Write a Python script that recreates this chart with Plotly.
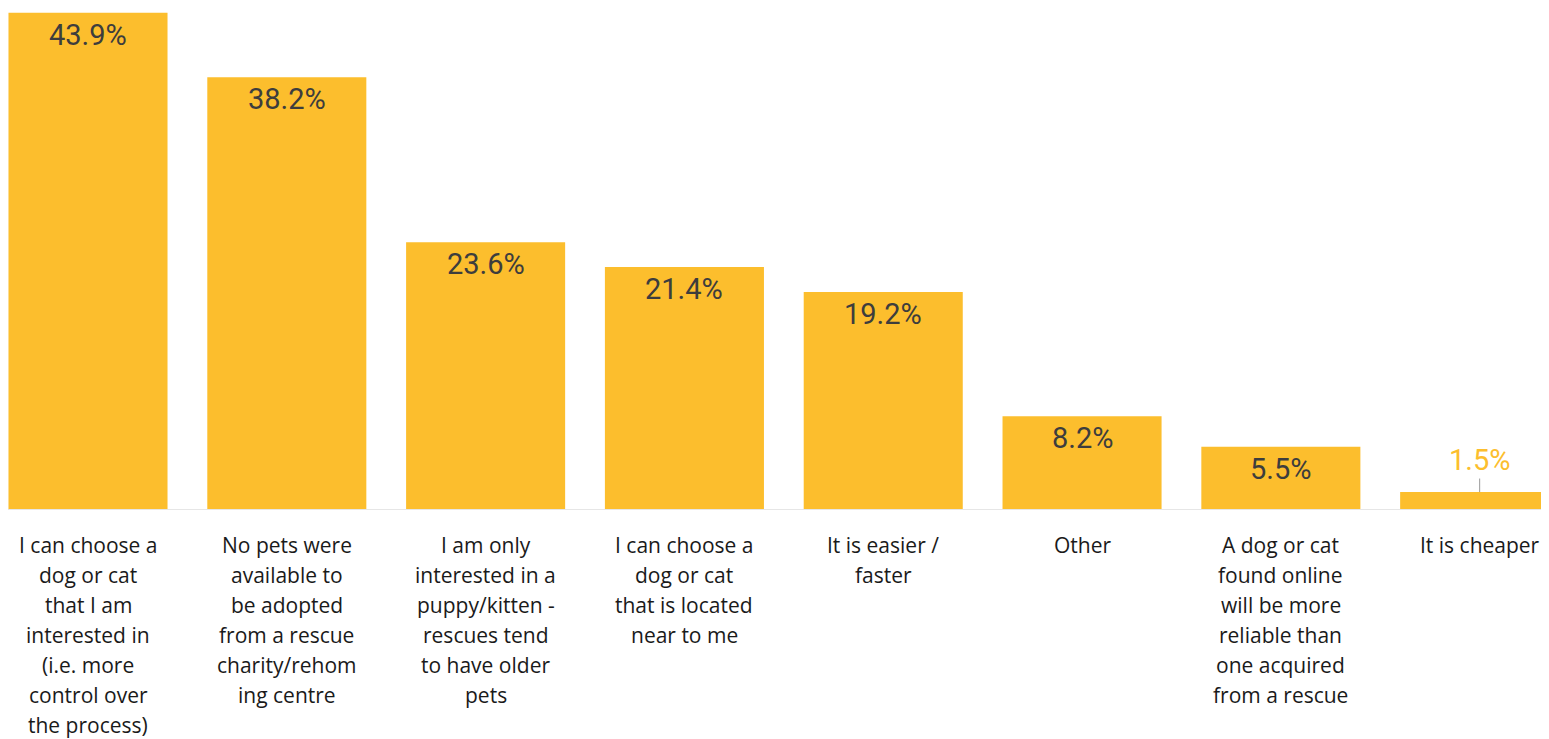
import plotly.graph_objects as go

categories = [
    "I can choose a<br>dog or cat<br>that I am<br>interested in<br>(i.e. more<br>control over<br>the process)",
    "No pets were<br>available to<br>be adopted<br>from a rescue<br>charity/rehom<br>ing centre",
    "I am only<br>interested in a<br>puppy/kitten -<br>rescues tend<br>to have older<br>pets",
    "I can choose a<br>dog or cat<br>that is located<br>near to me",
    "It is easier /<br>faster",
    "Other",
    "A dog or cat<br>found online<br>will be more<br>reliable than<br>one acquired<br>from a rescue",
    "It is cheaper",
]
values = [43.9, 38.2, 23.6, 21.4, 19.2, 8.2, 5.5, 1.5]
value_labels = ["43.9%", "38.2%", "23.6%", "21.4%", "19.2%", "8.2%", "5.5%", "1.5%"]

BAR = '#FCBE2D'
idx = list(range(len(categories)))

fig = go.Figure()
fig.add_trace(go.Bar(x=idx, y=values, marker=dict(color=BAR, line=dict(width=0)),
                     hoverinfo='skip'))

annotations = []
# value labels: inside the top of the bar, or above it with a leader line when the bar is too short
for i, (v, lab) in enumerate(zip(values, value_labels)):
    if v > 3:
        annotations.append(dict(x=i, y=v, xref='x', yref='y', text=lab, showarrow=False,
                                yanchor='middle', yshift=-22,
                                font=dict(family='Roboto', size=29, color='#3d3d3d')))
    else:
        annotations.append(dict(x=i, y=v, xref='x', yref='y', text=lab, showarrow=True,
                                ax=0, ay=-32, arrowhead=0, arrowwidth=1, arrowcolor='#9a9a9a',
                                font=dict(family='Roboto', size=29, color=BAR)))

# category labels, one annotation per line so the line spacing matches
for i, cat in enumerate(categories):
    for j, line in enumerate(cat.split('<br>')):
        annotations.append(dict(x=i, y=0, xref='x', yref='y', text=line, showarrow=False,
                                yanchor='middle', yshift=-36 - 30 * j,
                                font=dict(family='Open Sans', size=21, color='#1a1a1a')))

# the page body adds an 8px offset, so the axes are shifted to compensate
fig.update_layout(
    width=1549, height=739,
    margin=dict(l=0, r=0, t=0, b=238),
    paper_bgcolor='white', plot_bgcolor='white',
    bargap=0.2,
    showlegend=False,
    xaxis=dict(range=[-0.4024, 7.389], showticklabels=False, showgrid=False, zeroline=False,
               showline=True, linecolor='#e6e6e6', linewidth=1, fixedrange=True),
    yaxis=dict(range=[0, 44.32], showticklabels=False, showgrid=False, zeroline=False,
               fixedrange=True),
    annotations=annotations,
)

fig.write_html("out.html")
